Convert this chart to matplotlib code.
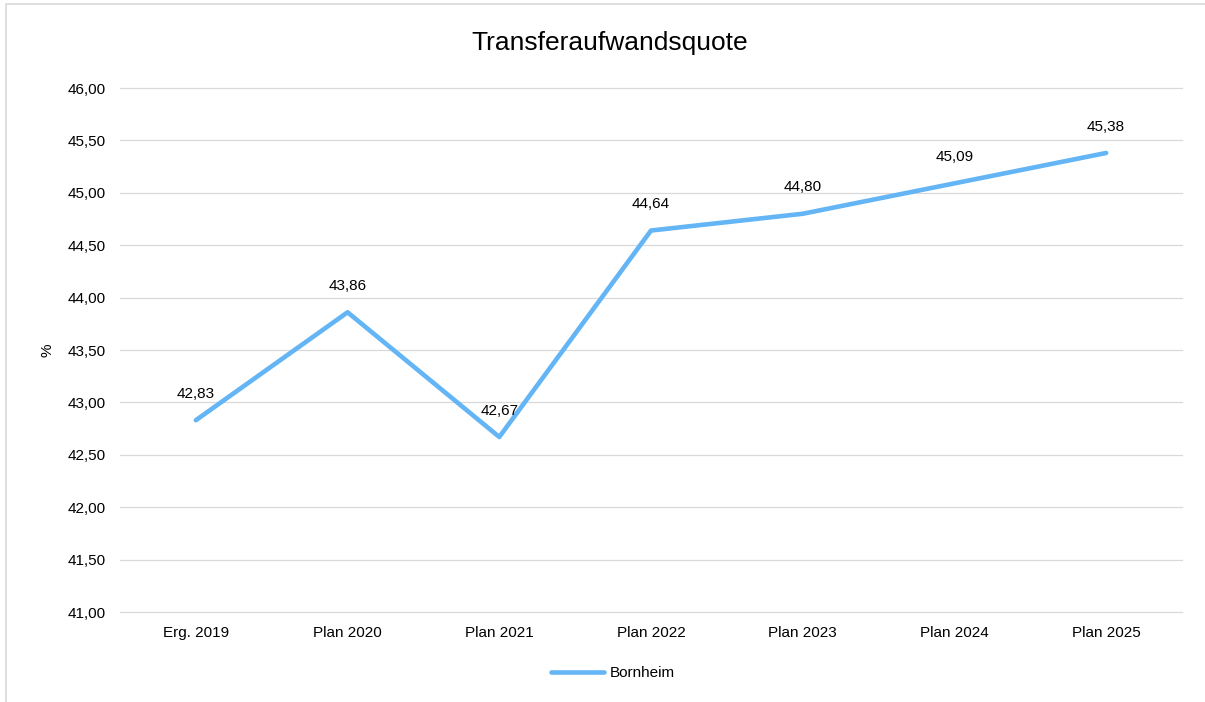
import matplotlib
matplotlib.use("Agg")
import matplotlib.pyplot as plt
from matplotlib.patches import Rectangle

categories = ["Erg. 2019", "Plan 2020", "Plan 2021", "Plan 2022", "Plan 2023", "Plan 2024", "Plan 2025"]
values = [42.83, 43.86, 42.67, 44.64, 44.80, 45.09, 45.38]
series_name = "Bornheim"
yticks = [41.0, 41.5, 42.0, 42.5, 43.0, 43.5, 44.0, 44.5, 45.0, 45.5, 46.0]

plt.rcParams['font.family'] = ['Liberation Sans', 'DejaVu Sans']

W, H = 1205, 702
fig = plt.figure(figsize=(W / 100, H / 100), dpi=100)
ax = fig.add_axes([120 / W, 1 - 612 / H, (1182 - 120) / W, (612 - 88) / H])

fs = 11
x = list(range(len(categories)))
line_color = "#63B5F5"
ax.plot(x, values, color=line_color, linewidth=3.3, solid_capstyle="round",
        solid_joinstyle="round", label=series_name)

for xi, v in zip(x, values):
    ax.annotate(f"{v:.2f}".replace(".", ","), (xi, v), xytext=(0, 19),
                textcoords="offset points", ha="center", va="center",
                fontsize=fs, color="#000000")

ax.set_xlim(-0.5, len(categories) - 0.5)
ax.set_ylim(41, 46)
ax.set_yticks(yticks)
ax.set_yticklabels([f"{t:.2f}".replace(".", ",") for t in yticks])
ax.set_xticks(x)
ax.set_xticklabels(categories)
ax.tick_params(axis="both", length=0, labelsize=fs, colors="#000000")
ax.tick_params(axis="y", pad=10)
ax.tick_params(axis="x", pad=10)
ax.grid(axis="y", color="#D9D9D9", linewidth=0.9)
for gl in ax.get_ygridlines():
    gl.set_clip_on(False)
ax.set_axisbelow(True)
for s in ax.spines.values():
    s.set_visible(False)

fig.text(48 / W, 1 - 350 / H, "%", rotation=90, ha="center", va="center",
         fontsize=fs, color="#000000")

fig.text(610 / W, 1 - 43 / H, "Transferaufwandsquote", ha="center", va="center",
         fontsize=19, color="#000000")

leg = ax.legend(loc="center", bbox_to_anchor=(613 / W, 1 - 673 / H),
                bbox_transform=fig.transFigure, frameon=False, fontsize=fs,
                handlelength=3.5, handletextpad=0.4)

fig.patches.append(Rectangle((6 / W, -0.05), 1.1, (1 - 4 / H) + 0.05,
                             transform=fig.transFigure, fill=False,
                             edgecolor="#D9D9D9", linewidth=1.2))

fig.savefig("out.png", dpi=100, facecolor="white")
